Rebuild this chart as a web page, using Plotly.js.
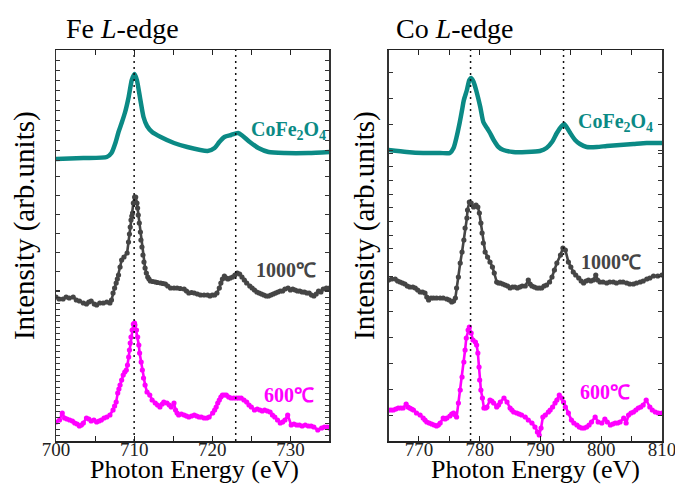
<!DOCTYPE html>
<html>
<head>
<meta charset="utf-8">
<script src="https://cdn.plot.ly/plotly-3.0.1.min.js"></script>
<style>html,body{margin:0;padding:0;background:#fff;}#chart{width:675px;height:486px;}</style>
</head>
<body>
<div id="chart"></div>
<script>
// ---------- data (energy eV, intensity arb. units incl. vertical offset) ----------
const feRef = [[700.0,28.2],[703.5,28.3],[706.5,28.4],[707.1,28.8],[707.6,29.8],[708.0,30.9],[708.4,31.8],[708.85,32.9],[709.3,34.4],[709.7,36.1],[710.05,36.7],[710.35,36.1],[710.8,34.1],[711.2,32.4],[711.65,31.5],[712.3,30.9],[713.4,30.4],[715.1,29.8],[716.8,29.4],[719.4,29.0],[720.3,29.3],[720.9,29.9],[721.55,30.4],[722.4,30.6],[723.3,30.8],[723.9,30.5],[724.8,29.9],[725.9,29.3],[727.2,28.9],[729.3,28.8],[732.3,28.8],[735.0,28.9]];
const fe1000 = [[700.0,14.4],[700.4,14.2],[700.9,14.2],[701.3,14.4],[701.7,14.3],[702.2,14.4],[702.6,14.1],[703.0,14.0],[703.5,13.8],[703.9,13.7],[704.2,13.9],[704.5,14.0],[704.9,13.7],[705.2,13.6],[705.6,13.8],[706.05,13.8],[706.5,13.9],[706.9,13.8],[707.1,14.1],[707.3,14.8],[707.5,15.3],[707.7,15.8],[707.85,16.2],[708.0,16.6],[708.2,17.4],[708.4,18.1],[708.7,18.4],[709.1,18.8],[709.28,19.9],[709.4,20.7],[709.5,21.4],[709.6,22.1],[709.7,22.5],[709.8,22.8],[709.9,23.8],[710.06,24.4],[710.2,24.4],[710.36,23.8],[710.44,23.3],[710.53,22.6],[710.66,21.8],[710.8,20.9],[710.87,20.1],[711.0,19.4],[711.13,18.6],[711.26,17.9],[711.4,17.3],[711.56,16.8],[711.74,16.4],[711.9,16.2],[712.08,16.0],[712.4,15.95],[712.73,15.9],[713.0,15.85],[713.4,15.8],[713.7,15.75],[714.0,15.7],[714.3,15.5],[714.66,15.3],[715.1,15.3],[715.5,15.3],[715.9,15.25],[716.4,15.2],[716.7,15.0],[717.0,14.8],[717.35,14.85],[717.7,14.8],[718.1,14.7],[718.5,14.6],[718.95,14.6],[719.4,14.6],[719.7,14.5],[720.0,14.6],[720.3,14.6],[720.6,14.8],[720.9,15.3],[721.1,15.8],[721.3,16.2],[721.55,16.5],[721.8,16.3],[722.0,16.2],[722.3,16.3],[722.6,16.4],[722.9,16.6],[723.2,16.8],[723.5,16.7],[723.8,16.4],[724.1,16.1],[724.4,15.8],[724.8,15.5],[725.1,15.3],[725.4,15.1],[725.7,14.9],[726.0,14.8],[726.3,14.7],[726.6,14.6],[726.9,14.5],[727.2,14.5],[727.5,14.6],[727.8,14.7],[728.1,14.8],[728.4,14.9],[728.7,15.0],[729.0,15.0],[729.3,15.2],[729.7,15.3],[730.0,15.1],[730.3,15.2],[730.6,15.1],[730.9,15.0],[731.2,15.0],[731.5,14.9],[731.8,14.9],[732.1,14.8],[732.4,14.8],[732.7,14.6],[733.0,14.5],[733.3,14.7],[733.6,15.0],[733.9,14.9],[734.2,15.2],[734.6,15.3],[735.0,15.3]];
const fe600 = [[700.0,1.9],[700.45,2.1],[700.8,2.8],[701.1,2.3],[701.4,2.2],[701.75,2.1],[702.1,2.0],[702.4,1.8],[702.7,1.7],[703.0,1.5],[703.25,1.6],[703.5,1.8],[703.9,2.3],[704.2,2.2],[704.5,2.0],[704.85,2.1],[705.2,1.9],[705.5,2.0],[705.8,2.1],[706.15,2.3],[706.5,2.4],[706.9,2.6],[707.3,3.1],[707.5,3.5],[707.7,3.9],[707.9,4.8],[708.05,5.2],[708.2,5.6],[708.4,6.1],[708.6,6.6],[708.8,6.9],[709.0,7.1],[709.15,7.6],[709.3,8.4],[709.4,9.1],[709.5,9.8],[709.6,10.4],[709.75,11.1],[709.9,11.7],[710.05,11.8],[710.1,11.6],[710.3,11.1],[710.45,10.4],[710.6,9.6],[710.7,8.8],[710.9,7.9],[711.05,7.1],[711.2,6.3],[711.4,5.6],[711.65,4.9],[712.0,4.6],[712.3,4.1],[712.7,3.8],[713.0,3.6],[713.3,3.4],[713.6,3.7],[713.8,3.9],[714.2,3.8],[714.5,3.6],[714.75,3.4],[715.1,3.8],[715.3,3.1],[715.5,2.8],[715.7,2.6],[716.05,2.7],[716.4,2.6],[716.7,2.5],[717.0,2.4],[717.35,2.5],[717.7,2.6],[718.0,2.5],[718.3,2.4],[718.6,2.4],[718.95,2.3],[719.3,2.3],[719.6,2.4],[720.05,2.8],[720.3,3.1],[720.5,3.4],[720.7,3.8],[720.9,4.1],[721.1,4.4],[721.3,4.6],[721.55,4.6],[721.8,4.6],[722.1,4.4],[722.4,4.3],[722.75,4.3],[723.1,4.3],[723.4,4.3],[723.7,4.3],[724.05,4.1],[724.4,3.9],[724.7,3.6],[725.0,3.4],[725.4,3.1],[725.75,3.2],[726.1,3.1],[726.4,3.0],[726.7,3.1],[727.05,3.0],[727.4,2.9],[727.7,2.6],[728.0,2.4],[728.35,2.1],[728.7,1.8],[729.0,1.9],[729.3,2.1],[729.65,2.6],[730.1,1.6],[730.45,1.7],[730.8,1.6],[731.15,1.6],[731.5,1.5],[731.9,1.6],[732.3,1.5],[732.65,1.5],[733.0,1.4],[733.5,1.1],[734.0,1.3],[734.35,1.4],[734.7,1.4],[735.0,1.3]];

const coRef = [[765.0,29.1],[768.0,28.9],[770.7,28.8],[773.5,28.8],[775.1,28.8],[775.7,29.3],[776.2,30.4],[776.7,31.8],[777.1,33.1],[777.4,34.1],[777.9,35.1],[778.3,36.1],[778.6,36.3],[779.0,35.9],[779.5,34.9],[780.1,33.4],[780.6,31.9],[781.2,31.3],[781.7,30.8],[782.3,30.1],[783.1,29.4],[783.9,29.1],[785.5,28.9],[787.7,28.9],[789.9,29.0],[791.0,29.3],[791.9,29.9],[792.7,30.8],[793.5,31.5],[793.9,31.7],[794.4,31.3],[794.9,30.8],[795.7,30.1],[796.5,29.7],[797.6,29.4],[799.3,29.4],[800.9,29.5],[803.1,29.6],[805.3,29.7],[807.5,29.8],[810.0,29.8]];
const co1000 = [[765.0,16.1],[765.5,16.2],[766.1,16.2],[766.5,16.0],[766.9,15.9],[767.3,15.8],[767.7,15.7],[768.1,15.5],[768.5,15.4],[769.0,15.4],[769.4,15.3],[769.8,15.1],[770.2,14.9],[770.6,14.9],[771.0,14.8],[771.3,14.4],[771.6,14.1],[772.0,14.3],[772.4,14.3],[772.9,14.3],[773.5,14.3],[774.0,14.3],[774.6,14.2],[775.0,14.1],[775.4,13.9],[775.7,14.0],[776.0,14.3],[776.2,15.3],[776.5,16.4],[776.8,17.8],[777.1,18.9],[777.4,20.1],[777.6,21.3],[777.9,22.3],[778.0,23.1],[778.3,23.9],[778.6,23.8],[779.0,23.4],[779.4,23.6],[779.7,23.4],[779.95,22.8],[780.2,21.8],[780.4,20.8],[780.6,19.8],[780.9,18.9],[781.3,18.4],[781.7,17.9],[782.1,17.4],[782.4,16.8],[782.8,15.9],[783.1,15.8],[783.4,15.8],[783.8,15.7],[784.2,15.6],[784.6,15.5],[785.0,15.3],[785.4,15.4],[785.8,15.4],[786.2,15.3],[786.6,15.4],[787.0,15.5],[787.5,15.5],[788.0,16.1],[788.3,15.7],[788.6,15.5],[789.0,15.4],[789.4,15.3],[789.8,15.3],[790.2,15.3],[790.6,15.5],[791.0,15.6],[791.5,15.9],[791.9,16.4],[792.3,17.1],[792.7,17.8],[793.3,18.6],[793.7,19.3],[794.1,19.1],[794.6,17.9],[795.0,17.4],[795.4,16.9],[795.8,16.6],[796.3,16.3],[796.7,16.0],[797.1,15.8],[797.5,16.0],[797.9,16.1],[798.3,16.0],[798.7,16.1],[799.1,16.6],[799.4,16.1],[799.8,15.9],[800.3,15.9],[800.9,15.8],[801.4,15.9],[802.0,15.9],[802.5,15.8],[803.1,15.9],[803.6,15.9],[804.2,15.8],[804.7,15.7],[805.3,15.7],[805.8,15.8],[806.4,15.9],[806.9,16.0],[807.5,16.2],[808.0,16.3],[808.6,16.5],[809.3,16.5],[810.0,16.6]];
const co600 = [[765.0,3.1],[765.4,3.1],[765.8,3.1],[766.2,3.2],[766.6,3.3],[767.0,3.3],[767.4,3.3],[767.9,3.7],[768.2,3.4],[768.5,3.3],[768.8,3.2],[769.1,3.1],[769.6,2.8],[770.2,2.6],[770.7,2.3],[771.0,2.1],[771.3,1.9],[771.7,1.8],[772.1,1.7],[772.5,1.6],[772.9,1.5],[773.2,1.6],[773.5,1.8],[774.0,2.3],[774.3,2.2],[774.6,2.3],[775.1,2.5],[775.4,2.7],[775.7,2.8],[776.0,2.6],[776.2,2.4],[776.5,3.8],[776.8,5.1],[777.1,6.4],[777.4,7.9],[777.6,9.1],[777.8,10.3],[778.1,11.1],[778.3,11.4],[778.6,10.8],[778.9,10.1],[779.3,9.9],[779.5,9.6],[779.7,8.8],[779.9,7.4],[780.0,6.1],[780.2,5.1],[780.45,4.3],[780.7,3.3],[781.0,3.3],[781.2,3.4],[781.7,4.1],[782.0,4.0],[782.3,3.8],[782.8,3.4],[783.1,3.6],[783.4,3.9],[784.0,4.3],[784.5,3.9],[785.0,3.3],[785.3,3.1],[785.6,2.9],[786.1,2.8],[786.5,2.7],[786.9,2.6],[787.5,2.4],[788.0,2.1],[788.6,1.8],[789.1,1.4],[789.5,0.9],[789.8,0.6],[790.1,1.3],[790.4,2.4],[790.8,2.6],[791.3,2.9],[791.6,3.1],[792.0,3.4],[792.4,3.8],[792.7,4.1],[793.1,4.6],[793.5,4.3],[793.8,3.9],[794.1,3.4],[794.6,2.8],[795.1,2.1],[795.5,1.8],[796.0,1.6],[796.4,1.4],[796.8,1.3],[797.2,1.3],[797.6,1.4],[798.0,1.6],[798.4,1.9],[799.0,2.4],[799.5,1.9],[800.1,1.8],[800.6,2.2],[801.0,1.9],[801.5,1.6],[801.9,1.7],[802.3,1.8],[802.7,1.8],[803.1,1.9],[803.7,2.3],[804.1,1.8],[804.5,2.6],[804.9,2.8],[805.3,2.9],[805.7,3.1],[806.1,3.3],[806.5,3.4],[806.9,3.6],[807.4,4.1],[808.0,3.4],[808.4,3.1],[808.9,2.9],[809.4,2.8],[810.0,2.8]];

const feEdges = [710.0, 723.0];
const coEdges = [778.5, 793.8];
const feTicks = [700, 710, 720, 730];
const coTicks = [770, 780, 790, 800, 810];
const seriesNames = ['CoFe<sub>2</sub>O<sub>4</sub>', '1000℃', '600℃'];

// ---------- styling ----------
const TEAL = '#0b8a85', GRAY = '#454545', MAG = '#ff00ff';
const SERIF = 'Liberation Serif, Times New Roman, serif';
const xs = a => a.map(p => p[0]);
const ys = a => a.map(p => p[1]);

function refTrace(d, xa, ya) {
  return {x: xs(d), y: ys(d), xaxis: xa, yaxis: ya, mode: 'lines',
    line: {color: TEAL, width: 4.5, shape: 'spline', smoothing: 0.6}, hoverinfo: 'skip'};
}
function dotTrace(d, xa, ya, c) {
  return {x: xs(d), y: ys(d), xaxis: xa, yaxis: ya, mode: 'lines+markers',
    line: {color: c, width: 2.6}, marker: {color: c, size: 5.2}, hoverinfo: 'skip'};
}
const traces = [
  refTrace(feRef, 'x', 'y'), dotTrace(fe1000, 'x', 'y', GRAY), dotTrace(fe600, 'x', 'y', MAG),
  refTrace(coRef, 'x2', 'y2'), dotTrace(co1000, 'x2', 'y2', GRAY), dotTrace(co600, 'x2', 'y2', MAG)
];

function ticksFrom(segs) {
  const out = [];
  segs.forEach(([a, b, s]) => { for (let v = a; v < b - 1e-6; v += s) out.push(+v.toFixed(3)); });
  return out;
}
const yTicksL = ticksFrom([[0, 15.1, 0.6], [15.1, 28.1, 1.9], [28.1, 39.1, 1.0]]);
const yTicksR = ticksFrom([[0, 15.1, 2.6], [15.1, 29.1, 1.37], [29.1, 39.1, 2.6]]);

const xBase = {
  ticks: 'inside', ticklen: 5, tickwidth: 1, tickcolor: '#222',
  showline: true, linecolor: '#222', linewidth: 1.5, mirror: 'ticks',
  showgrid: false, zeroline: false, fixedrange: true,
  ticklabelstandoff: -9, ticklabeloverflow: 'allow',
  tickmode: 'array',
  minor: {dtick: 5, ticks: 'inside', ticklen: 5, tickwidth: 1, tickcolor: '#222', showgrid: false},
  tickfont: {family: SERIF, size: 19, color: '#222'}
};
const yBase = {
  ticks: 'inside', ticklen: 4, tickwidth: 1, tickcolor: '#333',
  showline: true, linecolor: '#333', linewidth: 1.5, mirror: 'ticks',
  showgrid: false, zeroline: false, showticklabels: false, range: [0, 39.1],
  tickmode: 'array', fixedrange: true
};

const shapes = [];
feEdges.forEach(e => shapes.push({type: 'line', xref: 'x', yref: 'y domain', x0: e, x1: e, y0: 0, y1: 1,
  line: {color: '#111', width: 1.5, dash: '2px,4px'}}));
coEdges.forEach(e => shapes.push({type: 'line', xref: 'x2', yref: 'y2 domain', x0: e, x1: e, y0: 0, y1: 1,
  line: {color: '#111', width: 1.5, dash: '2px,4px'}}));

function lab(text, xa, ya, x, y, color) {
  return {text: '<b>' + text + '</b>', xref: xa, yref: ya, x: x, y: y, showarrow: false,
    xanchor: 'center', yanchor: 'middle', font: {family: SERIF, size: 20, color: color}};
}
function ptxt(text, x, y, size, angle) {
  return {text: text, xref: 'paper', yref: 'paper', x: x, y: y, showarrow: false,
    xanchor: 'center', yanchor: 'middle', textangle: angle || 0,
    font: {family: SERIF, size: size, color: '#000'}};
}
const annotations = [
  lab(seriesNames[0], 'x', 'y', 729.8, 31.1, TEAL),
  lab(seriesNames[1], 'x', 'y', 729.4, 17.1, GRAY),
  lab(seriesNames[2], 'x', 'y', 729.8, 4.6, MAG),
  lab(seriesNames[0], 'x2', 'y2', 802.4, 31.9, TEAL),
  lab(seriesNames[1], 'x2', 'y2', 801.6, 17.9, GRAY),
  lab(seriesNames[2], 'x2', 'y2', 800.6, 4.9, MAG),
  ptxt('Fe <i>L</i>-edge', 0.109, 1.056, 28),
  ptxt('Co <i>L</i>-edge', 0.657, 1.056, 28),
  ptxt('Intensity (arb.units)', -0.053, 0.552, 29, -90),
  ptxt('Intensity (arb.units)', 0.508, 0.552, 29, -90),
  ptxt('Photon Energy (eV)', 0.229, -0.074, 26),
  ptxt('Photon Energy (eV)', 0.792, -0.074, 26)
];

const layout = {
  width: 675, height: 486,
  margin: {l: 56, r: 13, t: 50, b: 45},
  paper_bgcolor: '#fff', plot_bgcolor: '#fff',
  showlegend: false,
  xaxis: Object.assign({}, xBase, {domain: [0, 0.4513], range: [700, 735], anchor: 'y',
    tickvals: feTicks}),
  xaxis2: Object.assign({}, xBase, {domain: [0.5487, 1], range: [765, 810], anchor: 'y2',
    tickvals: coTicks}),
  yaxis: Object.assign({}, yBase, {domain: [0, 1], anchor: 'x', tickvals: yTicksL}),
  yaxis2: Object.assign({}, yBase, {domain: [0, 1], anchor: 'x2', tickvals: yTicksR}),
  shapes: shapes,
  annotations: annotations
};

Plotly.newPlot('chart', traces, layout, {displayModeBar: false, staticPlot: true});
</script>
</body>
</html>
